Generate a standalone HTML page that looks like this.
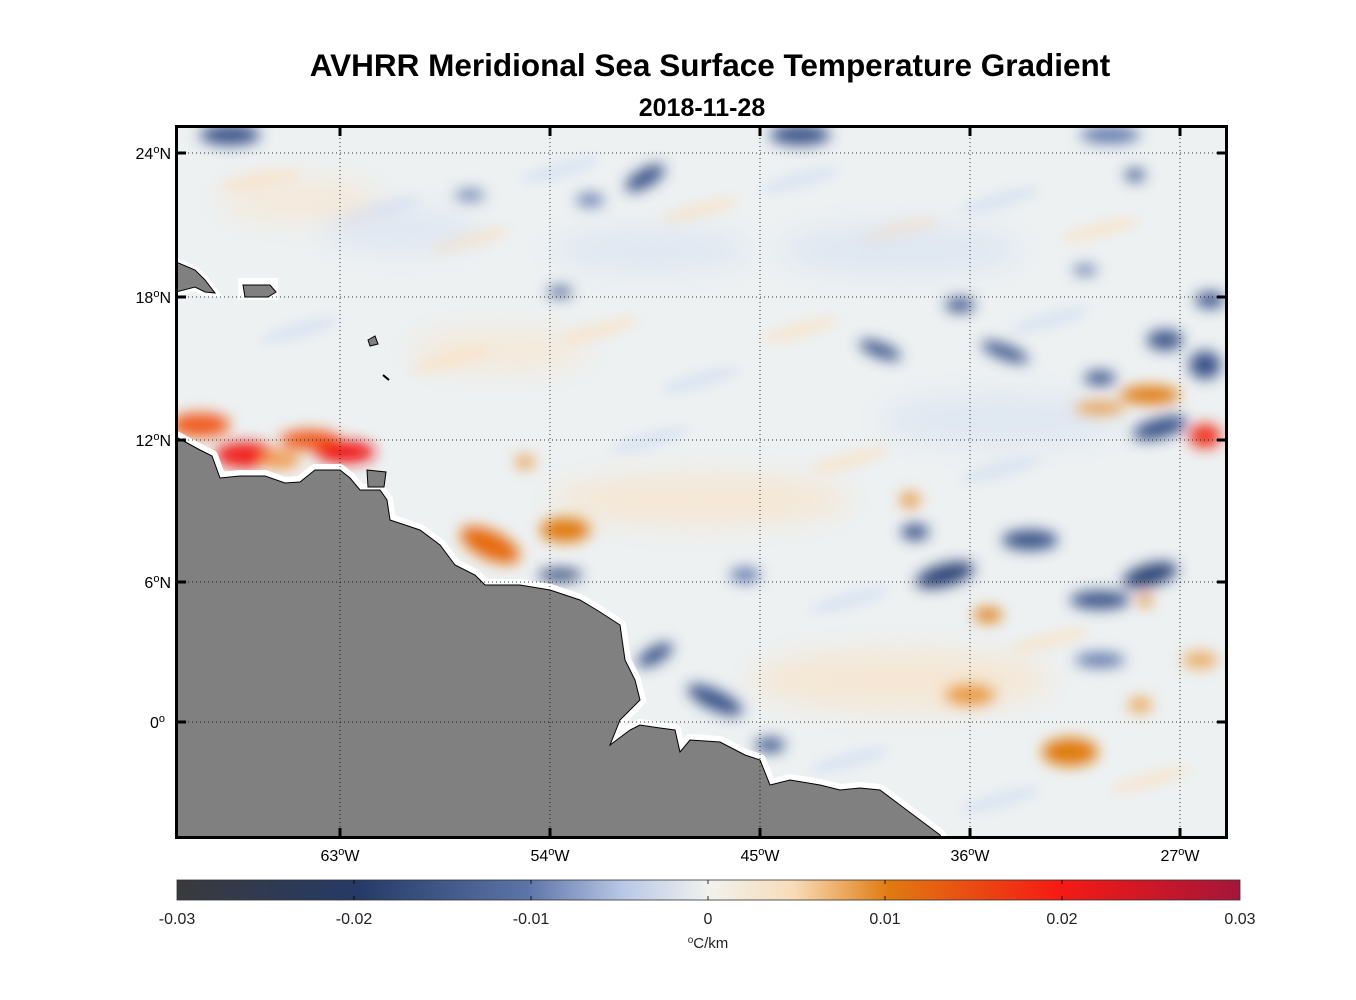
<!DOCTYPE html>
<html><head><meta charset="utf-8"><style>
body{margin:0;background:#fff;}
svg{display:block;font-family:"Liberation Sans",Arial,sans-serif;}
</style></head><body>
<svg width="1356" height="1000" viewBox="0 0 1356 1000">
<defs>
<filter id="b" x="-50%" y="-50%" width="200%" height="200%"><feGaussianBlur stdDeviation="7"/></filter>
<filter id="b3" x="-50%" y="-50%" width="200%" height="200%"><feGaussianBlur stdDeviation="5"/></filter>
<filter id="b2" x="-50%" y="-50%" width="200%" height="200%"><feGaussianBlur stdDeviation="14"/></filter>
<clipPath id="c"><rect x="176" y="126" width="1051" height="712"/></clipPath>
<linearGradient id="cb" x1="0" x2="1">
<stop offset="0" stop-color="#3a3a3c"/>
<stop offset="0.17" stop-color="#253a66"/>
<stop offset="0.33" stop-color="#5d74a8"/>
<stop offset="0.42" stop-color="#b9c8e6"/>
<stop offset="0.5" stop-color="#f1f2ee"/>
<stop offset="0.58" stop-color="#f8dcb8"/>
<stop offset="0.67" stop-color="#e07a10"/>
<stop offset="0.83" stop-color="#f51a14"/>
<stop offset="1" stop-color="#a5153a"/>
</linearGradient>
</defs>
<text x="710" y="76" text-anchor="middle" font-size="31.5" font-weight="bold">AVHRR Meridional Sea Surface Temperature Gradient</text>
<text x="702" y="116" text-anchor="middle" font-size="25" font-weight="bold">2018-11-28</text>
<g clip-path="url(#c)">
<rect x="176" y="126" width="1051" height="712" fill="#edf1f2"/>
<g filter="url(#b3)" opacity="0.55">
<ellipse cx="260" cy="180" rx="40" ry="8" fill="#fbe0c0" transform="rotate(-10 260 180)"/>
<ellipse cx="380" cy="210" rx="40" ry="8" fill="#cfdcf3" transform="rotate(-15 380 210)"/>
<ellipse cx="470" cy="240" rx="40" ry="8" fill="#fbe0c0" transform="rotate(-15 470 240)"/>
<ellipse cx="560" cy="170" rx="40" ry="8" fill="#cfdcf3" transform="rotate(-15 560 170)"/>
<ellipse cx="700" cy="210" rx="40" ry="8" fill="#fbe0c0" transform="rotate(-15 700 210)"/>
<ellipse cx="800" cy="180" rx="40" ry="8" fill="#cfdcf3" transform="rotate(-15 800 180)"/>
<ellipse cx="900" cy="230" rx="40" ry="8" fill="#fbe0c0" transform="rotate(-15 900 230)"/>
<ellipse cx="1000" cy="200" rx="40" ry="8" fill="#cfdcf3" transform="rotate(-15 1000 200)"/>
<ellipse cx="1100" cy="230" rx="40" ry="8" fill="#fbe0c0" transform="rotate(-15 1100 230)"/>
<ellipse cx="300" cy="330" rx="40" ry="8" fill="#cfdcf3" transform="rotate(-15 300 330)"/>
<ellipse cx="450" cy="360" rx="40" ry="8" fill="#fbe0c0" transform="rotate(-15 450 360)"/>
<ellipse cx="600" cy="330" rx="40" ry="8" fill="#fbe0c0" transform="rotate(-15 600 330)"/>
<ellipse cx="700" cy="380" rx="40" ry="8" fill="#cfdcf3" transform="rotate(-15 700 380)"/>
<ellipse cx="800" cy="330" rx="40" ry="8" fill="#fbe0c0" transform="rotate(-15 800 330)"/>
<ellipse cx="1050" cy="320" rx="40" ry="8" fill="#cfdcf3" transform="rotate(-15 1050 320)"/>
<ellipse cx="650" cy="440" rx="40" ry="8" fill="#cfdcf3" transform="rotate(-15 650 440)"/>
<ellipse cx="850" cy="460" rx="40" ry="8" fill="#fbe0c0" transform="rotate(-15 850 460)"/>
<ellipse cx="1000" cy="470" rx="40" ry="8" fill="#cfdcf3" transform="rotate(-15 1000 470)"/>
<ellipse cx="850" cy="600" rx="40" ry="8" fill="#cfdcf3" transform="rotate(-15 850 600)"/>
<ellipse cx="1050" cy="640" rx="40" ry="8" fill="#fbe0c0" transform="rotate(-15 1050 640)"/>
<ellipse cx="850" cy="760" rx="40" ry="8" fill="#cfdcf3" transform="rotate(-15 850 760)"/>
<ellipse cx="1150" cy="780" rx="40" ry="8" fill="#fbe0c0" transform="rotate(-15 1150 780)"/>
<ellipse cx="1000" cy="800" rx="40" ry="8" fill="#cfdcf3" transform="rotate(-15 1000 800)"/>
</g>
<g filter="url(#b2)" opacity="0.6">
<ellipse cx="300" cy="200" rx="80" ry="20" fill="#fbe3c8"/>
<ellipse cx="500" cy="350" rx="90" ry="20" fill="#fbe3c8"/>
<ellipse cx="700" cy="500" rx="150" ry="25" fill="#fbe0c0"/>
<ellipse cx="900" cy="680" rx="150" ry="30" fill="#fbe0c0"/>
<ellipse cx="650" cy="250" rx="100" ry="20" fill="#d6e0f2"/>
<ellipse cx="900" cy="250" rx="120" ry="25" fill="#d6e0f2"/>
<ellipse cx="1000" cy="420" rx="120" ry="25" fill="#d6e0f2"/>
<ellipse cx="400" cy="230" rx="80" ry="20" fill="#d6e0f2"/>
</g>
<g filter="url(#b)">
<ellipse cx="230" cy="135" rx="30" ry="10" fill="#3b5288"/>
<ellipse cx="800" cy="135" rx="30" ry="10" fill="#3b5288"/>
<ellipse cx="645" cy="178" rx="22" ry="9" fill="#3b5288" transform="rotate(-30 645 178)"/>
<ellipse cx="1110" cy="135" rx="30" ry="8" fill="#5d74a8"/>
<ellipse cx="880" cy="350" rx="22" ry="7" fill="#3b5288" transform="rotate(20 880 350)"/>
<ellipse cx="1005" cy="352" rx="25" ry="7" fill="#3b5288" transform="rotate(20 1005 352)"/>
<ellipse cx="960" cy="305" rx="15" ry="7" fill="#3b5288"/>
<ellipse cx="1210" cy="300" rx="15" ry="8" fill="#3b5288"/>
<ellipse cx="1165" cy="340" rx="18" ry="10" fill="#3b5288"/>
<ellipse cx="1205" cy="365" rx="16" ry="14" fill="#3b5288"/>
<ellipse cx="1100" cy="378" rx="16" ry="7" fill="#3b5288"/>
<ellipse cx="1160" cy="428" rx="28" ry="10" fill="#3b5288" transform="rotate(-15 1160 428)"/>
<ellipse cx="1150" cy="395" rx="30" ry="9" fill="#e07a10"/>
<ellipse cx="1100" cy="408" rx="25" ry="6" fill="#e89a45"/>
<ellipse cx="1205" cy="436" rx="16" ry="12" fill="#f0301a"/>
<ellipse cx="1030" cy="540" rx="28" ry="10" fill="#3b5288"/>
<ellipse cx="945" cy="575" rx="30" ry="11" fill="#2e4477" transform="rotate(-15 945 575)"/>
<ellipse cx="915" cy="532" rx="14" ry="8" fill="#3b5288"/>
<ellipse cx="1150" cy="575" rx="28" ry="11" fill="#2e4477" transform="rotate(-15 1150 575)"/>
<ellipse cx="1100" cy="600" rx="30" ry="9" fill="#3b5288"/>
<ellipse cx="1145" cy="600" rx="6" ry="6" fill="#e07a10"/>
<ellipse cx="988" cy="615" rx="14" ry="7" fill="#e07a10"/>
<ellipse cx="910" cy="500" rx="10" ry="8" fill="#e89a45"/>
<ellipse cx="1100" cy="660" rx="25" ry="7" fill="#5d74a8"/>
<ellipse cx="1200" cy="660" rx="18" ry="8" fill="#ebaa60"/>
<ellipse cx="970" cy="695" rx="25" ry="10" fill="#e89a45"/>
<ellipse cx="1070" cy="752" rx="28" ry="14" fill="#e07a10"/>
<ellipse cx="1140" cy="705" rx="12" ry="8" fill="#ebaa60"/>
<ellipse cx="745" cy="575" rx="15" ry="7" fill="#5d74a8"/>
<ellipse cx="560" cy="575" rx="22" ry="6" fill="#2e4477"/>
<ellipse cx="655" cy="655" rx="20" ry="8" fill="#3b5288" transform="rotate(-30 655 655)"/>
<ellipse cx="715" cy="700" rx="30" ry="10" fill="#3b5288" transform="rotate(25 715 700)"/>
<ellipse cx="770" cy="745" rx="15" ry="7" fill="#3b5288"/>
<ellipse cx="490" cy="545" rx="32" ry="14" fill="#e66a10" transform="rotate(25 490 545)"/>
<ellipse cx="565" cy="530" rx="25" ry="12" fill="#e07a10"/>
<ellipse cx="525" cy="462" rx="10" ry="6" fill="#e89a45"/>
<ellipse cx="200" cy="425" rx="30" ry="12" fill="#f05a1a"/>
<ellipse cx="245" cy="455" rx="30" ry="13" fill="#f0201a"/>
<ellipse cx="310" cy="440" rx="30" ry="10" fill="#f05a1a"/>
<ellipse cx="345" cy="452" rx="30" ry="11" fill="#f01818"/>
<ellipse cx="280" cy="460" rx="20" ry="9" fill="#f09a50"/>
<ellipse cx="560" cy="292" rx="12" ry="5" fill="#3b5288"/>
<ellipse cx="470" cy="195" rx="15" ry="5" fill="#5d74a8"/>
<ellipse cx="590" cy="200" rx="14" ry="6" fill="#5d74a8"/>
<ellipse cx="1135" cy="175" rx="10" ry="6" fill="#3b5288"/>
<ellipse cx="1085" cy="270" rx="12" ry="5" fill="#5d74a8"/>
</g>
<path d="M176,437 L200,450 L212,456 L220,478 L240,476 L265,476 L285,483 L300,482 L315,470 L340,470 L350,478 L360,490 L380,490 L387,500 L390,520 L420,530 L440,545 L455,565 L475,575 L485,585 L520,585 L550,590 L580,600 L600,612 L620,625 L625,660 L635,680 L640,700 L620,720 L610,745 L630,730 L640,725 L660,728 L675,730 L680,752 L690,740 L720,742 L745,755 L760,760 L770,785 L790,780 L820,785 L840,790 L860,788 L880,790 L900,805 L920,820 L940,835 L945,845 L176,845 Z" fill="#808080" stroke="#fff" stroke-width="12" stroke-linejoin="round"/>
<path d="M176,437 L200,450 L212,456 L220,478 L240,476 L265,476 L285,483 L300,482 L315,470 L340,470 L350,478 L360,490 L380,490 L387,500 L390,520 L420,530 L440,545 L455,565 L475,575 L485,585 L520,585 L550,590 L580,600 L600,612 L620,625 L625,660 L635,680 L640,700 L620,720 L610,745 L630,730 L640,725 L660,728 L675,730 L680,752 L690,740 L720,742 L745,755 L760,760 L770,785 L790,780 L820,785 L840,790 L860,788 L880,790 L900,805 L920,820 L940,835 L945,845 L176,845 Z" fill="#808080" stroke="#000" stroke-width="1"/>
<path d="M176,262 L195,270 L205,280 L215,293 L205,292 L195,287 L176,292 Z" fill="#808080" stroke="#fff" stroke-width="8"/>
<path d="M176,262 L195,270 L205,280 L215,293 L205,292 L195,287 L176,292 Z" fill="#808080" stroke="#000" stroke-width="1"/>
<rect x="238" y="278" width="40" height="22" fill="#fff"/>
<path d="M243,285 L270,285 L276,292 L268,297 L245,297 Z" fill="#808080" stroke="#000" stroke-width="1"/>
<path d="M368,340 L375,336 L378,344 L370,346 Z" fill="#808080" stroke="#000" stroke-width="1"/>
<path d="M383,375 L389,380" stroke="#000" stroke-width="2"/>
<path d="M367,470 L386,472 L384,487 L368,487 Z" fill="#808080" stroke="#000" stroke-width="1"/>
</g>
<g stroke="#000" stroke-width="1" stroke-dasharray="1,3" opacity="0.8">
<line x1="340" y1="126" x2="340" y2="838"/><line x1="550" y1="126" x2="550" y2="838"/>
<line x1="760" y1="126" x2="760" y2="838"/><line x1="970" y1="126" x2="970" y2="838"/>
<line x1="1180" y1="126" x2="1180" y2="838"/>
<line x1="176" y1="153" x2="1227" y2="153"/><line x1="176" y1="297" x2="1227" y2="297"/>
<line x1="176" y1="440" x2="1227" y2="440"/><line x1="176" y1="582" x2="1227" y2="582"/>
<line x1="176" y1="722" x2="1227" y2="722"/>
</g>
<rect x="176.5" y="126.5" width="1050" height="711" fill="none" stroke="#000" stroke-width="3"/>
<g stroke="#000" stroke-width="3">
<line x1="340" y1="126" x2="340" y2="136"/><line x1="550" y1="126" x2="550" y2="136"/><line x1="760" y1="126" x2="760" y2="136"/><line x1="970" y1="126" x2="970" y2="136"/><line x1="1180" y1="126" x2="1180" y2="136"/>
<line x1="340" y1="838" x2="340" y2="828"/><line x1="550" y1="838" x2="550" y2="828"/><line x1="760" y1="838" x2="760" y2="828"/><line x1="970" y1="838" x2="970" y2="828"/><line x1="1180" y1="838" x2="1180" y2="828"/>
<line x1="176" y1="153" x2="186" y2="153"/><line x1="176" y1="297" x2="186" y2="297"/><line x1="176" y1="440" x2="186" y2="440"/><line x1="176" y1="582" x2="186" y2="582"/><line x1="176" y1="722" x2="186" y2="722"/>
<line x1="1227" y1="153" x2="1217" y2="153"/><line x1="1227" y1="297" x2="1217" y2="297"/><line x1="1227" y1="440" x2="1217" y2="440"/><line x1="1227" y1="582" x2="1217" y2="582"/><line x1="1227" y1="722" x2="1217" y2="722"/>
</g>
<g font-size="16" text-anchor="end">
<text x="171" y="159">24<tspan font-size="11" dy="-6">o</tspan><tspan dy="6">N</tspan></text>
<text x="171" y="303">18<tspan font-size="11" dy="-6">o</tspan><tspan dy="6">N</tspan></text>
<text x="171" y="446">12<tspan font-size="11" dy="-6">o</tspan><tspan dy="6">N</tspan></text>
<text x="171" y="588">6<tspan font-size="11" dy="-6">o</tspan><tspan dy="6">N</tspan></text>
<text x="165" y="728">0<tspan font-size="11" dy="-6">o</tspan></text>
</g>
<g font-size="16" text-anchor="middle">
<text x="340" y="861">63<tspan font-size="11" dy="-6">o</tspan><tspan dy="6">W</tspan></text>
<text x="550" y="861">54<tspan font-size="11" dy="-6">o</tspan><tspan dy="6">W</tspan></text>
<text x="760" y="861">45<tspan font-size="11" dy="-6">o</tspan><tspan dy="6">W</tspan></text>
<text x="970" y="861">36<tspan font-size="11" dy="-6">o</tspan><tspan dy="6">W</tspan></text>
<text x="1180" y="861">27<tspan font-size="11" dy="-6">o</tspan><tspan dy="6">W</tspan></text>
</g>
<rect x="177" y="880" width="1063" height="20" fill="url(#cb)"/>
<rect x="177" y="880" width="1063" height="20" fill="none" stroke="#333" stroke-width="0.8"/>
<g stroke="#000" stroke-width="0.8">
<line x1="354" y1="880" x2="354" y2="884"/><line x1="531" y1="880" x2="531" y2="884"/><line x1="708" y1="880" x2="708" y2="884"/><line x1="885" y1="880" x2="885" y2="884"/><line x1="1062" y1="880" x2="1062" y2="884"/>
<line x1="354" y1="900" x2="354" y2="896"/><line x1="531" y1="900" x2="531" y2="896"/><line x1="708" y1="900" x2="708" y2="896"/><line x1="885" y1="900" x2="885" y2="896"/><line x1="1062" y1="900" x2="1062" y2="896"/>
</g>
<g font-size="16" text-anchor="middle" fill="#222">
<text x="177" y="924">-0.03</text><text x="354" y="924">-0.02</text><text x="531" y="924">-0.01</text>
<text x="708" y="924">0</text><text x="885" y="924">0.01</text><text x="1062" y="924">0.02</text><text x="1240" y="924">0.03</text>
<text x="708" y="948" font-size="15"><tspan font-size="10" dy="-5">o</tspan><tspan dy="5">C/km</tspan></text>
</g>
</svg>
</body></html>
